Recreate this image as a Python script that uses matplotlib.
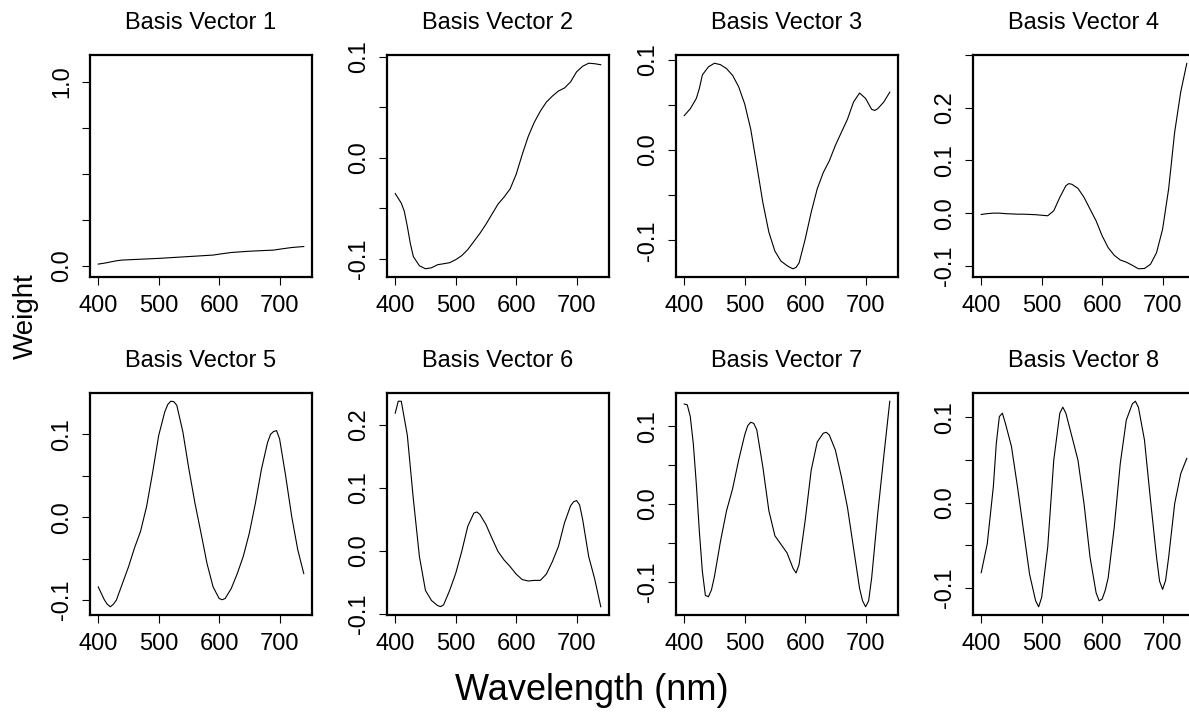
import matplotlib
matplotlib.use("Agg")
import matplotlib.pyplot as plt
import numpy as np

plt.rcParams['font.family'] = ['Liberation Sans', 'DejaVu Sans']

# ---------------- data ----------------
wl1 = [400, 410, 430, 440, 500, 550, 590, 600, 620, 650, 690, 700, 720, 740]
bv1 = [0.009, 0.014, 0.027, 0.031, 0.040, 0.050, 0.058, 0.063, 0.072, 0.079, 0.085, 0.090, 0.099, 0.1045]

wl2 = [400, 410, 415, 420, 425, 430, 440, 450, 460, 470, 480, 490, 500, 510, 520, 530, 540,
       550, 560, 570, 580, 590, 600, 610, 620, 630, 640, 650, 660, 670, 680, 690, 700, 710,
       720, 730, 740]
bv2 = [-0.0355, -0.045, -0.053, -0.068, -0.085, -0.098, -0.107, -0.110, -0.109, -0.106, -0.105,
       -0.104, -0.101, -0.097, -0.091, -0.083, -0.075, -0.066, -0.056, -0.046, -0.039, -0.031,
       -0.0166, 0.003, 0.021, 0.035, 0.046, 0.055, 0.061, 0.066, 0.069, 0.075, 0.085, 0.0905,
       0.0935, 0.093, 0.092]

wl3 = [400, 410, 420, 425, 430, 440, 450, 460, 470, 480, 490, 500, 510, 520, 530, 540, 550,
       560, 570, 575, 580, 585, 590, 600, 610, 620, 630, 640, 650, 660, 670, 680, 690, 700,
       710, 715, 720, 730, 740]
bv3 = [0.038, 0.0456, 0.057, 0.068, 0.083, 0.092, 0.096, 0.0944, 0.090, 0.0826, 0.070, 0.051,
       0.023, -0.017, -0.058, -0.091, -0.112, -0.123, -0.128, -0.130, -0.1315, -0.130, -0.125,
       -0.099, -0.069, -0.043, -0.025, -0.012, 0.005, 0.0196, 0.034, 0.053, 0.063, 0.057,
       0.045, 0.0437, 0.0456, 0.053, 0.064]

wl4 = [400, 410, 420, 430, 440, 450, 460, 470, 480, 490, 500, 510, 520, 530, 540, 545, 550,
       560, 570, 580, 590, 600, 610, 620, 630, 640, 650, 660, 670, 680, 690, 700, 710, 720,
       730, 740]
bv4 = [-0.0025, -0.001, 0.0, 0.0, -0.001, -0.0015, -0.002, -0.002, -0.0025, -0.003, -0.004,
       -0.005, 0.0045, 0.030, 0.052, 0.056, 0.0547, 0.047, 0.030, 0.0076, -0.0146, -0.043,
       -0.0655, -0.080, -0.089, -0.093, -0.099, -0.1056, -0.105, -0.097, -0.075, -0.0305,
       0.046, 0.154, 0.230, 0.284]

wl5 = [400, 410, 415, 420, 425, 430, 440, 450, 460, 470, 480, 490, 500, 510, 515, 520, 525,
       530, 540, 550, 560, 570, 580, 590, 600, 605, 610, 620, 630, 640, 650, 660, 670, 680,
       685, 690, 695, 700, 710, 720, 730, 740]
bv5 = [-0.084, -0.0994, -0.105, -0.108, -0.105, -0.100, -0.080, -0.060, -0.037, -0.017, 0.013,
       0.054, 0.0986, 0.127, 0.136, 0.140, 0.1395, 0.135, 0.103, 0.058, 0.017, -0.019, -0.056,
       -0.084, -0.098, -0.0995, -0.098, -0.086, -0.068, -0.047, -0.019, 0.017, 0.058, 0.090,
       0.100, 0.1035, 0.1045, 0.0945, 0.050, 0.001, -0.039, -0.068]

wl6 = [400, 405, 410, 420, 430, 440, 450, 460, 470, 475, 480, 490, 500, 510, 520, 530, 535,
       540, 550, 560, 570, 580, 590, 600, 610, 620, 630, 640, 650, 660, 670, 680, 690, 695,
       700, 705, 710, 720, 730, 740]
bv6 = [0.219, 0.238, 0.238, 0.184, 0.082, -0.009, -0.063, -0.079, -0.087, -0.0887, -0.086,
       -0.063, -0.036, -0.001, 0.039, 0.060, 0.0618, 0.058, 0.042, 0.020, -0.001, -0.0145,
       -0.025, -0.037, -0.0457, -0.048, -0.047, -0.047, -0.037, -0.017, 0.007, 0.0446, 0.0715,
       0.078, 0.080, 0.073, 0.050, -0.009, -0.045, -0.089]

wl7 = [400, 405, 410, 415, 420, 425, 430, 435, 440, 445, 450, 460, 470, 480, 490, 500, 505,
       510, 515, 520, 530, 540, 550, 560, 570, 580, 585, 590, 600, 610, 620, 630, 635, 640,
       650, 660, 670, 680, 690, 695, 700, 705, 710, 720, 730, 740]
bv7 = [0.129, 0.128, 0.113, 0.078, 0.026, -0.035, -0.087, -0.118, -0.1196, -0.111, -0.0935,
       -0.048, -0.0087, 0.0196, 0.0565, 0.089, 0.101, 0.1055, 0.104, 0.0957, 0.048, -0.0087,
       -0.041, -0.052, -0.063, -0.083, -0.089, -0.078, -0.0217, 0.0435, 0.080, 0.0913, 0.0925,
       0.089, 0.0696, 0.035, -0.0043, -0.0565, -0.1087, -0.125, -0.1326, -0.125, -0.0957,
       -0.013, 0.061, 0.1326]

wl8 = [400, 410, 420, 425, 430, 435, 440, 450, 460, 470, 480, 490, 495, 500, 510, 520, 530,
       535, 540, 550, 560, 570, 580, 590, 595, 600, 605, 610, 620, 630, 640, 650, 655, 660,
       670, 680, 690, 695, 700, 705, 710, 720, 730, 740]
bv8 = [-0.082, -0.048, 0.0185, 0.070, 0.101, 0.105, 0.093, 0.066, 0.0185, -0.0327, -0.084,
       -0.115, -0.122, -0.111, -0.052, 0.050, 0.105, 0.112, 0.105, 0.0776, 0.050, -0.001,
       -0.064, -0.1055, -0.115, -0.113, -0.103, -0.088, -0.029, 0.046, 0.097, 0.116, 0.119,
       0.112, 0.0736, 0.003, -0.064, -0.092, -0.1016, -0.091, -0.064, -0.001, 0.034, 0.052]

titles = ["Basis Vector %d" % i for i in range(1, 9)]
x_ticks = [400, 500, 600, 700]
y_ticks = [
    [0.0, 0.25, 0.5, 0.75, 1.0],
    [-0.1, -0.05, 0.0, 0.05, 0.1],
    [-0.1, -0.05, 0.0, 0.05, 0.1],
    [-0.1, 0.0, 0.1, 0.2, 0.3],
    [-0.1, -0.05, 0.0, 0.05, 0.1],
    [-0.1, 0.0, 0.1, 0.2],
    [-0.1, -0.05, 0.0, 0.05, 0.1],
    [-0.1, -0.05, 0.0, 0.05, 0.1],
]
y_labels = [
    ["0.0", "", "", "", "1.0"],
    ["-0.1", "", "0.0", "", "0.1"],
    ["-0.1", "", "0.0", "", "0.1"],
    ["-0.1", "0.0", "0.1", "0.2", ""],
    ["-0.1", "", "0.0", "", "0.1"],
    ["-0.1", "0.0", "0.1", "0.2"],
    ["-0.1", "", "0.0", "", "0.1"],
    ["-0.1", "", "0.0", "", "0.1"],
]

series = [(wl1, bv1), (wl2, bv2), (wl3, bv3), (wl4, bv4),
          (wl5, bv5), (wl6, bv6), (wl7, bv7), (wl8, bv8)]

# ---------------- layout ----------------
W, H = 1189, 719
fig = plt.figure(figsize=(W / 100, H / 100), dpi=100)

col_left = [90, 387, 676, 973]
row_top = [55, 393]
pw, ph = 222, 222

FS = 17

for i, ((wl, bv), title) in enumerate(zip(series, titles)):
    r, c = divmod(i, 4)
    left = col_left[c]
    top = row_top[r]
    ax = fig.add_axes([left / W, 1 - (top + ph) / H, pw / W, ph / H])
    ax.plot(wl, bv, color="black", lw=0.8, solid_joinstyle="round")

    xr = max(wl) - min(wl)
    ax.set_xlim(min(wl) - 0.04 * xr, max(wl) + 0.04 * xr)
    if i == 0:
        ax.set_ylim(-0.061, 1.144)
    else:
        yr = max(bv) - min(bv)
        ax.set_ylim(min(bv) - 0.04 * yr, max(bv) + 0.04 * yr)

    ax.set_xticks(x_ticks)
    ax.set_xticklabels([str(v) for v in x_ticks])
    ax.set_yticks(y_ticks[i])
    ax.set_yticklabels(y_labels[i], rotation=90, va="center")

    ax.tick_params(axis="both", direction="out", length=6, width=0.8,
                   labelsize=FS, colors="black")
    ax.tick_params(axis="x", pad=7)
    ax.tick_params(axis="y", pad=6)
    for sp in ax.spines.values():
        sp.set_linewidth(1.6)
        sp.set_color("black")

    ax.set_title(title, fontsize=FS, pad=19)

fig.text(592 / W, 1 - 690 / H, "Wavelength (nm)", ha="center", va="center", fontsize=26)
fig.text(26 / W, 1 - 316 / H, "Weight", ha="center", va="center", rotation=90, fontsize=20)

fig.savefig("out.png", dpi=100)
